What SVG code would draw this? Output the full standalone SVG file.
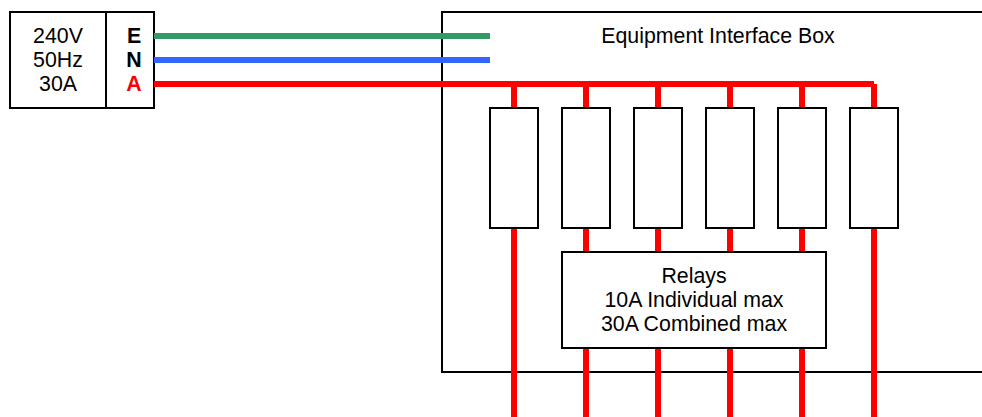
<svg xmlns="http://www.w3.org/2000/svg" width="982" height="417" viewBox="0 0 982 417">
<style>
text{font-family:"Liberation Sans",Arial,sans-serif;font-size:21.33px;fill:#000;text-anchor:middle}
.b{fill:#fff;stroke:#000;stroke-width:2}
.w{fill:none;stroke-width:6}
.r{stroke:#f00}
.h{font-weight:bold}
</style>
<rect width="982" height="417" fill="#fff"/>
<g id="equipment-interface-box">
<path class="b" d="M984 12H442V372H984"/>
<text x="718" y="43">Equipment Interface Box</text>
</g>
<g id="supply">
<rect class="b" x="10" y="12" width="96" height="96"/>
<text x="58" y="43">240V</text>
<text x="58" y="67">50Hz</text>
<text x="58" y="91">30A</text>
</g>
<g id="terminals">
<rect class="b" x="106" y="12" width="48" height="96"/>
<text class="h" x="134" y="43">E</text>
<text class="h" x="134" y="67">N</text>
<text class="h" x="134" y="91" style="fill:#f00">A</text>
</g>
<g id="connectors">
<path class="w" stroke="#339966" d="M154 36H490"/>
<path class="w" stroke="#3366ff" d="M154 60H490"/>
<path class="w r" d="M154 84H874"/>
<path class="w r" d="M514 84V108M586 84V108M658 84V108M730 84V108M802 84V108M874 84V108"/>
<path class="w r" d="M514 228V417M586 228V417M658 228V417M730 228V417M802 228V417M874 228V417"/>
</g>
<g id="fuse-1"><rect class="b" x="490" y="108" width="48" height="120"/></g>
<g id="fuse-2"><rect class="b" x="562" y="108" width="48" height="120"/></g>
<g id="fuse-3"><rect class="b" x="634" y="108" width="48" height="120"/></g>
<g id="fuse-4"><rect class="b" x="706" y="108" width="48" height="120"/></g>
<g id="fuse-5"><rect class="b" x="778" y="108" width="48" height="120"/></g>
<g id="fuse-6"><rect class="b" x="850" y="108" width="48" height="120"/></g>
<g id="relays">
<rect class="b" x="562" y="252" width="264" height="96"/>
<text x="694" y="283">Relays</text>
<text x="694" y="307">10A Individual max</text>
<text x="694" y="331">30A Combined max</text>
</g>
</svg>
